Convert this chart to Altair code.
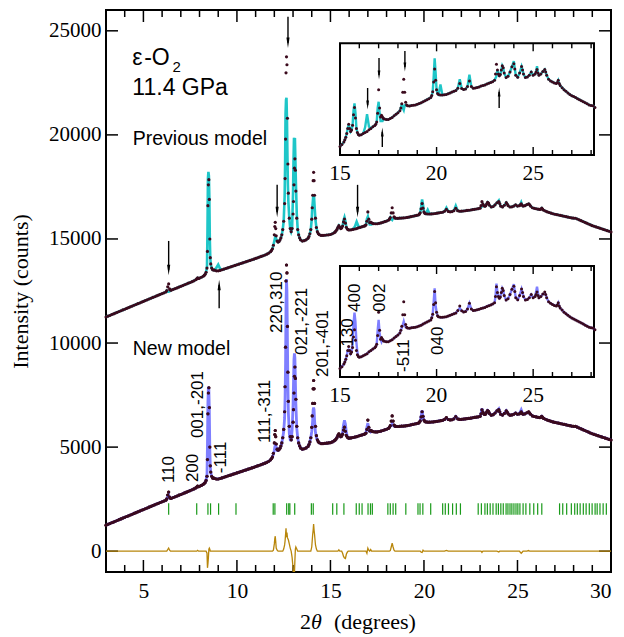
import altair as alt
import pandas as pd

# ---------------- data ----------------
# observed powder pattern (lower trace): (2theta in degrees, counts)
obs_points = [
    (3.0,1250),(3.1,1290),(3.2,1325),(3.3,1365),(3.4,1400),(3.5,1440),(3.6,1475),(3.7,1515),(3.8,1550),(3.9,1590),
    (4.0,1625),(4.1,1665),(4.2,1700),(4.3,1740),(4.4,1775),(4.5,1815),(4.6,1850),(4.7,1890),(4.8,1925),(4.9,1965),
    (5.0,2000),(5.1,2040),(5.2,2075),(5.3,2115),(5.4,2150),(5.5,2190),(5.6,2225),(5.7,2265),(5.8,2300),(5.9,2340),
    (6.0,2375),(6.1,2410),(6.2,2450),(6.25,2520),(6.3,2700),(6.35,2840),(6.4,2600),(6.45,2540),(6.5,2545),
    (6.6,2580),(6.7,2615),(6.8,2650),(6.9,2690),(7.0,2725),(7.1,2760),(7.2,2800),(7.3,2835),(7.4,2875),(7.5,2910),
    (7.6,2950),(7.7,2990),(7.8,3040),(7.85,3080),(7.9,3130),(7.95,3100),(8.0,3120),(8.1,3160),(8.2,3210),(8.25,3250),
    (8.3,3300),(8.35,3400),(8.4,3600),(8.425,4400),(8.45,6600),(8.475,7600),(8.5,7850),(8.525,6900),(8.55,5000),(8.575,4100),
    (8.6,3800),(8.65,3600),(8.7,3520),(8.75,3510),(8.8,3500),(8.9,3470),(9.0,3470),(9.1,3490),(9.2,3520),(9.3,3550),
    (9.4,3580),(9.5,3610),(9.6,3640),(9.7,3670),(9.8,3700),(9.9,3730),(10.0,3760),(10.1,3790),(10.2,3820),(10.3,3850),
    (10.4,3880),(10.5,3910),(10.6,3940),(10.7,3970),(10.8,4000),(10.9,4030),(11.0,4065),(11.1,4095),(11.2,4130),(11.3,4160),
    (11.4,4195),(11.5,4230),(11.6,4270),(11.7,4320),(11.8,4390),(11.85,4450),(11.9,4530),(11.95,4700),(12.0,5200),(12.025,5600),
    (12.05,5800),(12.075,5500),(12.1,5150),(12.15,4900),(12.2,4850),(12.25,4880),(12.3,4950),(12.35,5050),(12.4,5200),(12.45,5450),
    (12.5,5850),(12.55,6700),(12.575,7900),(12.6,9800),(12.625,12980),(12.65,13750),(12.675,13370),(12.7,10800),(12.725,8600),(12.75,7200),
    (12.8,6000),(12.85,5500),(12.9,5350),(12.95,5500),(13.0,6200),(13.025,6800),(13.05,7600),(13.075,8400),(13.1,8850),(13.125,8300),
    (13.15,7300),(13.2,6000),(13.25,5450),(13.3,5200),(13.35,5060),(13.4,4960),(13.5,4900),(13.6,4920),(13.7,4960),(13.8,5030),
    (13.85,5120),(13.9,5250),(13.95,5450),(14.0,5950),(14.025,6500),(14.05,7100),(14.075,7800),(14.1,8200),(14.125,7800),(14.15,7100),
    (14.2,6000),(14.25,5550),(14.3,5350),(14.35,5260),(14.4,5210),(14.5,5170),(14.6,5170),(14.7,5180),(14.8,5190),(14.9,5200),
    (15.0,5213),(15.1,5250),(15.2,5300),(15.25,5340),(15.3,5390),(15.35,5460),(15.4,5560),(15.45,5640),(15.5,5560),(15.55,5500),
    (15.6,5530),(15.65,5620),(15.7,5820),(15.75,5960),(15.8,5760),(15.85,5560),(15.9,5480),(15.95,5445),(16.0,5430),(16.1,5440),
    (16.2,5460),(16.3,5480),(16.4,5500),(16.5,5535),(16.6,5560),(16.7,5590),(16.8,5615),(16.85,5640),(16.9,5680),(16.95,5850),
    (17.0,6300),(17.05,5950),(17.1,5780),(17.15,5810),(17.2,5780),(17.25,5750),(17.3,5740),(17.4,5730),(17.5,5730),(17.6,5750),
    (17.7,5770),(17.8,5800),(17.9,5830),(18.0,5860),(18.1,5900),(18.15,5950),(18.2,6030),(18.25,6250),(18.3,6500),(18.35,6250),
    (18.4,6060),(18.45,6010),(18.5,5995),(18.6,5990),(18.7,6000),(18.8,6005),(18.9,6010),(19.0,6020),(19.1,6035),(19.2,6050),
    (19.3,6070),(19.4,6090),(19.5,6110),(19.6,6130),(19.7,6150),(19.75,6190),(19.8,6260),(19.85,6450),(19.9,6700),(19.95,6480),
    (20.0,6300),(20.05,6230),(20.1,6210),(20.2,6200),(20.3,6200),(20.4,6205),(20.5,6210),(20.6,6225),(20.7,6240),(20.8,6255),
    (20.9,6270),(21.0,6285),(21.1,6330),(21.2,6420),(21.3,6325),(21.4,6305),(21.5,6315),(21.6,6360),(21.7,6470),(21.8,6360),
    (21.9,6330),(22.0,6335),(22.1,6345),(22.2,6355),(22.3,6370),(22.4,6380),(22.5,6392),(22.6,6410),(22.7,6425),(22.8,6440),
    (22.9,6455),(23.0,6480),(23.05,6600),(23.1,6790),(23.15,6680),(23.2,6600),(23.25,6570),(23.3,6590),(23.35,6680),(23.4,6760),
    (23.45,6720),(23.5,6620),(23.6,6535),(23.7,6560),(23.8,6640),(23.9,6740),(24.0,6800),(24.05,6700),(24.1,6580),(24.2,6540),
    (24.3,6620),(24.4,6745),(24.45,6680),(24.5,6600),(24.6,6535),(24.7,6545),(24.8,6580),(24.9,6640),(25.0,6580),(25.1,6600),
    (25.15,6640),(25.2,6690),(25.25,6620),(25.3,6580),(25.4,6600),(25.5,6650),(25.6,6690),(25.65,6640),(25.7,6580),(25.8,6500),
    (25.9,6470),(26.0,6450),(26.1,6430),(26.2,6420),(26.25,6440),(26.3,6480),(26.35,6420),(26.4,6380),(26.5,6340),(26.6,6300),
    (26.7,6270),(26.8,6240),(26.9,6210),(27.0,6186),(27.1,6170),(27.2,6150),(27.3,6130),(27.4,6110),(27.5,6090),(27.6,6070),
    (27.7,6050),(27.8,6030),(27.9,6010),(28.0,6000),(28.1,5993),(28.2,5960),(28.3,5920),(28.4,5880),(28.5,5840),(28.6,5800),
    (28.7,5760),(28.8,5720),(28.9,5680),(29.0,5640),(29.1,5610),(29.2,5580),(29.3,5550),(29.4,5520),(29.5,5490),(29.6,5460),
    (29.7,5430),(29.8,5400),(29.9,5370),(30.0,5340),
]

# residual of the new model, obs - calc (the golden difference curve); zero elsewhere
new_resid = [
    (6.3,80),(6.35,150),(6.4,50),(7.9,40),
    (8.4,-100),(8.425,-800),(8.45,-600),(8.475,-300),(8.5,100),(8.525,150),(8.55,100),
    (11.95,50),(12.0,350),(12.025,600),(12.05,720),(12.075,450),(12.1,150),(12.15,50),
    (12.5,100),(12.55,300),(12.575,500),(12.6,800),(12.625,1100),(12.65,670),(12.675,900),(12.7,650),
    (12.725,600),(12.75,550),(12.8,350),(12.85,150),
    (12.95,-300),(13.0,-800),(13.025,-1300),(13.05,-1600),(13.075,-1100),(13.1,-430),(13.125,100),(13.15,200),(13.2,100),
    (14.0,200),(14.025,500),(14.05,800),(14.075,1000),(14.1,1300),(14.125,1000),(14.15,800),(14.2,300),(14.25,100),
    (15.45,60),(15.65,-100),(15.7,-250),(15.75,-330),(15.8,-350),(15.85,-150),(15.9,-50),
    (16.95,-100),(17.0,150),(17.05,50),(17.15,80),
    (18.2,30),(18.25,200),(18.3,380),(18.35,200),(18.4,50),
    (19.85,-50),(19.9,-60),(19.95,50),
    (21.2,40),(23.1,-60),(24.0,-40),(25.15,-50),(25.2,-100),(25.25,-50),(25.6,30),
]

# previous model: calc - obs; zero elsewhere
prev_dev = [
    (6.3,-230),(6.35,-370),(6.4,-120),
    (8.4,100),(8.425,900),(8.45,1300),(8.475,620),(8.5,200),(8.525,100),
    (8.9,150),(9.0,300),(9.1,80),
    (12.0,-300),(12.025,-600),(12.05,-700),(12.075,-400),(12.1,-150),
    (12.55,300),(12.575,600),(12.6,1200),(12.625,-1300),(12.65,-1970),(12.675,-2600),(12.7,-1800),(12.725,-1000),(12.75,-400),
    (13.0,1000),(13.025,1900),(13.05,2200),(13.075,1400),(13.1,1000),(13.125,500),(13.15,500),(13.2,200),
    (14.05,-400),(14.075,-800),(14.1,-1100),(14.125,-800),(14.15,-500),(14.2,-100),
    (15.7,80),(15.75,80),(15.8,100),
    (16.3,100),(16.4,330),(16.5,60),
    (16.95,100),(17.0,-230),(17.05,-100),(17.1,-80),(17.15,-110),(17.2,-80),
    (18.25,-300),(18.3,-590),(18.35,-250),(18.4,-50),
    (19.85,100),(19.9,200),(19.95,150),(20.2,200),
    (21.2,80),(21.7,120),(23.05,-80),(23.1,-230),(24.0,50),(25.2,60),
]

upper_offset = 10000  # the "previous model" trace is shifted up by this

# reflection tick marks (green)
reflection_pos = [6.35, 7.85, 8.45, 8.59, 9.02, 9.95, 11.94, 12.03, 12.66, 12.77, 12.83, 13.09, 13.98, 14.08,
                  15.12, 15.34, 15.72, 16.38, 16.54, 16.69, 17.01, 17.14, 17.24, 18.07, 18.2, 18.35, 18.49,
                  19.03, 19.68, 19.79, 19.94, 20.36, 21.0, 21.14, 21.31, 21.53, 21.73, 21.95, 22.9, 23.07,
                  23.26, 23.39, 23.54, 23.69, 23.86, 23.98, 24.11, 24.24, 24.39, 24.49, 24.6, 24.7, 24.81,
                  24.92, 25.02, 25.13, 25.3, 25.45, 25.66, 25.87, 26.08, 26.3, 27.25, 27.42, 27.63, 27.88,
                  28.06, 28.2, 28.35, 28.52, 28.67, 28.84, 28.99, 29.15, 29.26, 29.41, 29.58, 29.75]

# hkl labels: text, 2theta, counts at the label's lower end
hkl_text = ["110", "200", "001,-201", "-111", "111,-311", "220,310", "021,-221", "201,-401"]
hkl_x = [6.38, 7.67, 7.94, 9.17, 11.5, 12.14, 13.48, 14.6]
hkl_y = [3270, 3318, 5433, 3750, 5193, 10481, 9424, 8366]
inset_hkl_text = ["130", "400", "002", "-511", "040"]
inset_hkl_x = [15.39, 15.78, 17.07, 18.31, 20.09]
inset_hkl_y = [5634, 6303, 6303, 5146, 5474]

# arrows (main): 2theta, tail, head, direction
arrow_x = [6.35, 9.05, 12.15, 12.73, 16.45]
arrow_tail = [14905, 11670, 17600, 25675, 17600]
arrow_head = [13510, 12790, 16300, 24425, 16300]
arrow_dir = ["down", "up", "down", "down", "down"]
# arrows (upper inset)
iarrow_x = [16.43, 17.02, 17.19, 18.36, 23.24]
iarrow_tail = [16334, 16909, 15203, 17043, 15950]
iarrow_head = [16008, 16583, 15491, 16736, 16257]
iarrow_dir = ["down", "down", "up", "down", "up"]

x_major = [5, 10, 15, 20, 25, 30]
x_minor = [4, 6, 7, 8, 9, 11, 12, 13, 14, 16, 17, 18, 19, 21, 22, 23, 24, 26, 27, 28, 29]
y_major = [0, 5000, 10000, 15000, 20000, 25000]
inset_major = [15, 20, 25]
inset_minor = [16, 17, 18, 19, 21, 22, 23, 24, 26, 27, 28]

# ---------------- tables ----------------
df = pd.DataFrame(obs_points, columns=["tt", "obs"])
df["k"] = df.tt.round(3)
rmap = {round(a, 3): b for a, b in new_resid}
dmap = {round(a, 3): b for a, b in prev_dev}
assert all(k in set(df.k) for k in list(rmap) + list(dmap))
df["resid"] = [rmap.get(k, 0) for k in df.k]
df["dev"] = [dmap.get(k, 0) for k in df.k]
df["new"] = df.obs - df.resid
df["prev"] = df.obs + df.dev
df["obs_up"] = df.obs + upper_offset
df["prev_up"] = df.prev + upper_offset
df = df.drop(columns=["k"])

refl = pd.DataFrame({"pos": reflection_pos})
hkl = pd.DataFrame({"t": hkl_text, "x": hkl_x, "y": hkl_y})
ihkl = pd.DataFrame({"t": inset_hkl_text, "x": inset_hkl_x, "y": inset_hkl_y})
arr = pd.DataFrame({"x": arrow_x, "tail": arrow_tail, "head": arrow_head, "dir": arrow_dir})
iarr = pd.DataFrame({"x": iarrow_x, "tail": iarrow_tail, "head": iarrow_head, "dir": iarrow_dir})
dummy = pd.DataFrame({"a": [0]})

# ---------------- styling ----------------
W, H = 505, 562
SERIF = "Liberation Serif"
SANS = "Liberation Sans"
MAROON = "#3b0a1d"
CYAN = "#1fc6c8"
BLUE = "#3a3aff"
GOLD = "#b8860b"
GREEN = "#1a9a1a"
DOWN = "M-0.3,-1L0.3,-1L0,1Z"
UP = "M-0.3,1L0.3,1L0,-1Z"

xs = alt.Scale(domain=[3, 30], nice=False, zero=False)
ys = alt.Scale(domain=[-1000, 26000], nice=False, zero=False)
x_axis = alt.Axis(values=x_major, orient="bottom", ticks=False, domain=False, grid=False, labelFont=SERIF,
                  labelFontSize=21.5, labelColor="black", labelPadding=8, title="", format="d")
y_axis = alt.Axis(values=y_major, orient="left", ticks=False, domain=False, grid=False, labelFont=SERIF,
                  labelFontSize=21, labelColor="black", labelPadding=5, format="d",
                  title="Intensity (counts)", titleFont=SERIF, titleFontSize=22,
                  titleFontWeight="normal", titleColor="black", titlePadding=16)


def X(f):
    return alt.X(f, type="quantitative", scale=xs, axis=x_axis)


def Y(f):
    return alt.Y(f, type="quantitative", scale=ys, axis=y_axis)


shape_scale = alt.Scale(domain=["down", "up"], range=[DOWN, UP])

# ---- main panel ----
obs_low = alt.Chart(df).mark_circle(size=10, color=MAROON, opacity=1).encode(x=X("tt:Q"), y=Y("obs:Q"))
obs_up = alt.Chart(df).mark_circle(size=10, color=MAROON, opacity=1).encode(x=X("tt:Q"), y=Y("obs_up:Q"))

tick_layers = []
for vals, ln in [(x_minor, 7), (x_major[:-1], 12)]:
    d = pd.DataFrame({"t": vals})
    tick_layers.append(alt.Chart(d).mark_rule(color="black", strokeWidth=1.5).encode(
        x=X("t:Q"), y=alt.value(0), y2=alt.value(ln)))
    tick_layers.append(alt.Chart(d).mark_rule(color="black", strokeWidth=1.5).encode(
        x=X("t:Q"), y=alt.value(H), y2=alt.value(H - ln)))
dy = pd.DataFrame({"t": y_major})
tick_layers.append(alt.Chart(dy).mark_rule(color="black", strokeWidth=1.5).encode(
    y=Y("t:Q"), x=alt.value(0), x2=alt.value(12)))
tick_layers.append(alt.Chart(dy).mark_rule(color="black", strokeWidth=1.5).encode(
    y=Y("t:Q"), x=alt.value(W), x2=alt.value(W - 12)))

green = alt.Chart(refl).mark_rule(color=GREEN, strokeWidth=1.2).transform_calculate(
    lo="1750", hi="2300").encode(x=X("pos:Q"), y=Y("lo:Q"), y2="hi:Q")

diff_line = alt.Chart(df).mark_line(color=GOLD, strokeWidth=1.3, clip=True).encode(
    x=X("tt:Q"), y=Y("resid:Q"))
cyan_line = alt.Chart(df).mark_line(color=CYAN, strokeWidth=2.6).encode(
    x=X("tt:Q"), y=Y("prev_up:Q"))
blue_line = alt.Chart(df).mark_line(color=BLUE, strokeWidth=2.8, opacity=0.65).encode(
    x=X("tt:Q"), y=Y("new:Q"))

arrow_stem = alt.Chart(arr).mark_rule(color="black", strokeWidth=1.4).encode(
    x=X("x:Q"), y=Y("tail:Q"), y2="head:Q")
arrow_tip = alt.Chart(arr).mark_point(filled=True, color="black", opacity=1, size=110, strokeWidth=0).encode(
    x=X("x:Q"), y=Y("head:Q"), shape=alt.Shape("dir:N", scale=shape_scale, legend=None))

hkl_text_layer = alt.Chart(hkl).mark_text(angle=270, align="left", baseline="middle", font=SANS,
                                           fontSize=17, color="black").encode(
    x=X("x:Q"), y=Y("y:Q"), text="t:N")


def note(txt, x, y, size):
    return alt.Chart(dummy).mark_text(text=txt, align="left", baseline="alphabetic", font=SANS,
                                      fontSize=size, color="black").encode(
        x=alt.XDatum(x, scale=xs, axis=x_axis), y=alt.YDatum(y, scale=ys, axis=y_axis))


notes = [
    note("ε", 4.41, 23367, 23),
    note("-O", 5.04, 23367, 23),
    note("2", 6.55, 23000, 15),
    note("11.4 GPa", 4.41, 21924, 23),
    note("Previous model", 4.43, 19520, 19.5),
    note("New model", 4.43, 9424, 19.5),
]


def xtitle(txt, px, style="normal"):
    return alt.Chart(dummy).mark_text(text=txt, align="left", baseline="middle", font=SERIF,
                                      fontSize=22, fontStyle=style, color="black").encode(
        x=alt.value(px), y=alt.value(H + 50))


xtitles = [xtitle("2", 194), xtitle("θ", 205, "italic"), xtitle("(degrees)", 228)]

main = alt.layer(obs_low, *tick_layers, green, diff_line, cyan_line, blue_line, obs_low, obs_up,
                 arrow_stem, arrow_tip, hkl_text_layer, *notes, *xtitles)

# ---- insets ----
ixs = alt.Scale(domain=[15, 28.15], range=[234, 488], nice=False, zero=False)


def inset(ydom, yrange, obs_field, calc_field, calc_color, calc_opacity, extra):
    iys = alt.Scale(domain=ydom, range=yrange, nice=False, zero=False)
    top, bot = yrange[1], yrange[0]
    IX = lambda f: alt.X(f, type="quantitative", scale=ixs, axis=None)
    IY = lambda f: alt.Y(f, type="quantitative", scale=iys, axis=None)
    box = alt.Chart(dummy).mark_rect(fill="white", stroke="black", strokeWidth=2).encode(
        x=alt.XDatum(15, scale=ixs, axis=None), x2=alt.X2Datum(28.15),
        y=alt.YDatum(ydom[0], scale=iys, axis=None), y2=alt.Y2Datum(ydom[1]))
    layers = [box]
    for vals, ln in [(inset_minor, 5), (inset_major[1:], 8)]:
        d = pd.DataFrame({"t": vals})
        layers.append(alt.Chart(d).mark_rule(color="black", strokeWidth=1.4).encode(
            x=IX("t:Q"), y=alt.value(top), y2=alt.value(top + ln)))
        layers.append(alt.Chart(d).mark_rule(color="black", strokeWidth=1.4).encode(
            x=IX("t:Q"), y=alt.value(bot), y2=alt.value(bot - ln)))
    sub = alt.Chart(df).transform_filter("datum.tt >= 15 && datum.tt <= 28.2")
    layers.append(sub.mark_line(color=calc_color, strokeWidth=2.4, opacity=calc_opacity).encode(
        x=IX("tt:Q"), y=IY(calc_field + ":Q")))
    layers.append(sub.mark_circle(size=9, color=MAROON, opacity=1).encode(
        x=IX("tt:Q"), y=IY(obs_field + ":Q")))
    layers.append(alt.Chart(pd.DataFrame({"t": inset_major})).mark_text(
        font=SERIF, fontSize=21.5, baseline="middle", align="center", color="black").encode(
        x=IX("t:Q"), y=alt.value(bot + 19), text="t:N"))
    layers += extra(IX, IY)
    return alt.layer(*layers)


def up_extra(IX, IY):
    stem = alt.Chart(iarr).mark_rule(color="black", strokeWidth=1.4).encode(
        x=IX("x:Q"), y=IY("tail:Q"), y2="head:Q")
    tip = alt.Chart(iarr).mark_point(filled=True, color="black", opacity=1, size=80, strokeWidth=0).encode(
        x=IX("x:Q"), y=IY("head:Q"), shape=alt.Shape("dir:N", scale=shape_scale, legend=None))
    return [stem, tip]


def low_extra(IX, IY):
    return [alt.Chart(ihkl).mark_text(angle=270, align="left", baseline="middle", font=SANS,
                                      fontSize=17, color="black").encode(
        x=IX("x:Q"), y=IY("y:Q"), text="t:N")]


inset_up = inset([15050, 17190], [145, 33.3], "obs_up", "prev_up", CYAN, 1, up_extra)
inset_low = inset([5050, 7190], [367, 256], "obs", "new", BLUE, 0.65, low_extra)

chart = alt.layer(main, inset_up, inset_low).resolve_scale(
    x="independent", y="independent"
).properties(
    width=W, height=H,
    padding={"left": 98, "top": 2, "right": 5, "bottom": 66},
    autosize=alt.AutoSizeParams(type="none"),
).configure_view(stroke="black", strokeWidth=2)

chart.save("out.html", embed_options={"renderer": "svg", "actions": False})
